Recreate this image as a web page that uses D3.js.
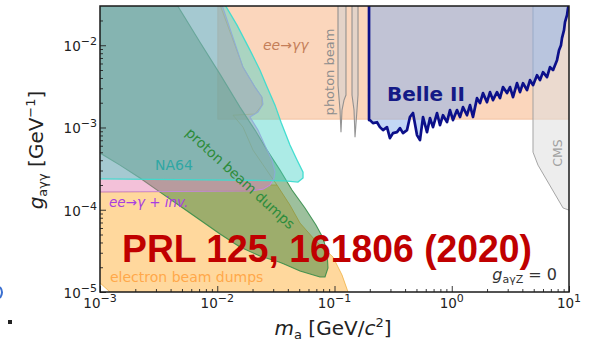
<!DOCTYPE html>
<html>
<head>
<meta charset="utf-8">
<script src="https://cdn.jsdelivr.net/npm/d3@7"></script>
<style>
  body { margin: 0; background: #fff; }
  svg { display: block; }
</style>
</head>
<body>
<svg id="chart" width="590" height="346"></svg>
<script>
// ---- axis ticks ----
const massTicks = [1e-3, 1e-2, 1e-1, 1, 10];
const massTickExponents = ["−3", "−2", "−1", "0", "1"];
const couplingTicks = [1e-5, 1e-4, 1e-3, 1e-2];
const couplingTickExponents = ["−5", "−4", "−3", "−2"];

// ---- excluded regions: [m_a (GeV), g_aγγ (GeV^-1)] ----
const electronBeamDumps = [[0.0009,0.000164],[0.01902,0.000169],[0.02455,0.000178],[0.0282,0.0002],[0.0323,0.0002],
  [0.0417,0.000114],[0.0508,6.89e-5],[0.0682,4.28e-5],[0.0971,2.66e-5],[0.1159,1.61e-5],[0.1304,1e-5],
  [0.135,9e-6],[0.00132,9e-6],[0.0009,1.48e-5]];
// upper continuation of the electron beam-dump contour
const electronBeamDumpsEdge = [[0.01056,0.031],[0.01658,0.00542],[0.02099,0.0031],[0.02408,0.00234],[0.02408,0.00187],
  [0.02099,0.00146],[0.01363,0.00141],[0.01658,0.00101],[0.02018,0.000531],[0.0282,0.000264],[0.0323,0.0002]];

const eeGammaGamma = [[0.0101,0.04],[12,0.04],[12,0.00126],[0.0101,0.00126]];

const eeGammaInvisible = [[0.0009,0.04],[0.01098,0.031],[0.01658,0.00542],[0.02099,0.0031],[0.02408,0.00234],
  [0.02455,0.00192],[0.02226,0.00154],[0.01902,0.00134],[0.02226,0.00093],[0.0266,0.000531],[0.0293,0.000402],
  [0.0311,0.000287],[0.0305,0.000243],[0.0282,0.0002],[0.02455,0.000178],[0.01902,0.000169],[0.0009,0.000164]];

const na64 = [[0.0009,0.04],[0.01165,0.031],[0.01474,0.01754],[0.01902,0.00872],[0.02315,0.00498],[0.0266,0.0031],
  [0.0311,0.00187],[0.0350,0.00116],[0.0417,0.000611],[0.0479,0.000402],[0.0539,0.000287],[0.0539,0.000243],
  [0.0488,0.000217],[0.0378,0.000225],[0.0009,0.000238]];

const protonBeamDumps = [[0.0009,0.04],[0.00454,0.031],[0.00713,0.0109],[0.01056,0.00446],[0.01563,0.00177],
  [0.0210,0.00093],[0.0266,0.000531],[0.0343,0.000304],[0.0434,0.000174],[0.0560,0.000105],[0.0695,6.52e-5],
  [0.0798,4.53e-5],[0.0863,3.06e-5],[0.0880,1.96e-5],[0.0830,1.52e-5],[0.0752,1.52e-5],[0.0508,1.80e-5],
  [0.0371,2.19e-5],[0.0336,2.31e-5],[0.0231,2.74e-5],[0.01563,3.52e-5],[0.01056,5.07e-5],[0.00713,7.50e-5],
  [0.00481,0.000111],[0.00325,0.000164],[0.00219,0.000243],[0.00148,0.000349],[0.001,0.000489],[0.0009,0.00056]];

const photonBeamLow = [[0.1071,0.04],[0.1071,0.00327],[0.1114,0.00163],[0.1136,0.000879],[0.1159,0.00163],
  [0.1205,0.00215],[0.1253,0.00248],[0.1253,0.04]];
const photonBeamHigh = [[0.1410,0.04],[0.1410,0.00248],[0.1467,0.00163],[0.1496,0.000764],[0.1555,0.00163],
  [0.1587,0.00248],[0.1587,0.04]];

const cms = [[4.93,0.04],[4.93,0.000502],[5.44,0.000349],[8.9,0.000105],[10,9.9e-5],[12,9.9e-5],[12,0.04]];

// ---- Belle II 95% CL upper limit ----
const belleMass = [0.197,0.197,0.2008,0.2130,0.2304,0.244,0.2593,0.2804,0.297,0.3155,0.3412,0.362,0.3838,0.4151,
  0.440,0.4672,0.5053,0.5359,0.569,0.6151,0.6524,0.6921,0.7485,0.7940,0.8421,0.9110,0.9662,1.0248,1.1086,1.1758,
  1.247,1.349,1.431,1.5176,1.6420,1.7414,1.847,1.998,2.120,2.247,2.4315,2.5788,2.735,2.959,3.1397,3.3300,3.6014,
  3.820,4.053,4.3833,4.650,4.9318,5.3345,5.657,6.002,6.494,6.887,7.303,7.900,8.217,8.546,8.716,9.066,9.245,
  9.615,9.806,10];
const belleCoupling = [0.04,0.00123,0.00123,0.00113,0.00116,0.00101,0.00093,0.00101,0.000743,0.000855,0.000879,
  0.000983,0.000855,0.00093,0.00134,0.0015,0.000808,0.000703,0.00134,0.000879,0.0013,0.00101,0.0015,0.00107,
  0.00141,0.00116,0.00163,0.00123,0.00163,0.00134,0.00177,0.00141,0.00187,0.00134,0.002276,0.00198,0.00262,
  0.00203,0.002692,0.00215,0.002692,0.002276,0.0031,0.00262,0.0031,0.00234,0.00346,0.002692,0.00346,0.00285,
  0.00377,0.00327,0.004331,0.00377,0.00471,0.004095,0.005418,0.004982,0.006592,0.008718,0.01003,0.0122,
  0.01526,0.01909,0.02321,0.02824,0.0307];

// ---- drawing ----
const svg = d3.select("#chart");
const plot = { left: 100, right: 569, top: 6, bottom: 292 };
const x = d3.scaleLog().domain([1e-3, 10]).range([plot.left, plot.right]);
const y = d3.scaleLog().domain([1e-5, 0.03]).range([plot.bottom, plot.top]);
const line = d3.line().x(d => x(d[0])).y(d => y(d[1]));
const FONT = "DejaVu Sans, sans-serif";

svg.append("rect").attr("width", 590).attr("height", 346).attr("fill", "#fff");

svg.append("clipPath").attr("id", "plotClip")
  .append("rect").attr("x", plot.left).attr("y", plot.top)
  .attr("width", plot.right - plot.left).attr("height", plot.bottom - plot.top);

const regions = svg.append("g").attr("clip-path", "url(#plotClip)");

function region(pts, fill, op, stroke, sw, sop) {
  regions.append("path").datum(pts)
    .attr("d", d => line(d) + "Z")
    .attr("fill", fill).attr("fill-opacity", op)
    .attr("stroke", stroke).attr("stroke-width", sw).attr("stroke-opacity", sop);
}

region(eeGammaGamma, "#f7a56b", 0.45, "#eba070", 0.8, 0.6);
region(electronBeamDumps, "#ffb13c", 0.5, "#f0b040", 1, 0.8);
regions.append("path").datum(electronBeamDumpsEdge).attr("d", line)
  .attr("fill", "none").attr("stroke", "#e0b040").attr("stroke-width", 1).attr("stroke-opacity", 0.75);
region(protonBeamDumps, "#3c823c", 0.5, "#2f8a45", 1.1, 0.85);
region(eeGammaInvisible, "#e164a0", 0.4, "#c68ae8", 1.1, 0.9);
region(na64, "#46d2c8", 0.45, "#3cdccf", 1.3, 0.95);
region(photonBeamLow, "#d2d2d2", 0.55, "#8a8a8a", 1.1, 0.9);
region(photonBeamHigh, "#d2d2d2", 0.55, "#8a8a8a", 1.1, 0.9);
region(cms, "#dedede", 0.55, "#9c9c9c", 1, 0.9);

// Belle II exclusion (filled above the limit curve)
const belle = belleMass.map((m, i) => [m, belleCoupling[i]]);
regions.append("path").datum(belle)
  .attr("d", d => line(d.concat([[10, 0.04]])) + "Z")
  .attr("fill", "#8cb2ec").attr("fill-opacity", 0.52).attr("stroke", "none");
regions.append("path").datum(belle)
  .attr("d", line)
  .attr("fill", "none").attr("stroke", "#0c108a").attr("stroke-width", 2.7)
  .attr("stroke-linejoin", "round");

// ---- axes (ticks pointing inward) ----
function minorTicks(lo, hi) {
  const out = [];
  for (let e = Math.log10(lo); e < Math.log10(hi); e++)
    for (let k = 2; k <= 9; k++) out.push(k * Math.pow(10, e));
  return out;
}
const xMinor = minorTicks(1e-3, 10);
const yMinor = minorTicks(1e-5, 1e-1).filter(v => v < 0.03);

const axisX = svg.append("g").attr("transform", `translate(0,${plot.bottom})`);
axisX.call(d3.axisBottom(x).tickValues(massTicks).tickSizeInner(-6).tickSizeOuter(0).tickFormat(""));
axisX.append("g").call(d3.axisBottom(x).tickValues(xMinor).tickSizeInner(-3).tickSizeOuter(0).tickFormat(""));
const axisY = svg.append("g").attr("transform", `translate(${plot.left},0)`);
axisY.call(d3.axisLeft(y).tickValues(couplingTicks).tickSizeInner(-6).tickSizeOuter(0).tickFormat(""));
axisY.append("g").call(d3.axisLeft(y).tickValues(yMinor).tickSizeInner(-3).tickSizeOuter(0).tickFormat(""));
svg.selectAll(".domain").remove();
svg.selectAll(".tick line").attr("stroke", "#222").attr("stroke-width", 0.9);

svg.append("rect").attr("x", plot.left).attr("y", plot.top)
  .attr("width", plot.right - plot.left).attr("height", plot.bottom - plot.top)
  .attr("fill", "none").attr("stroke", "#1a1a1a").attr("stroke-width", 1.5);

// tick labels 10^n
massTicks.forEach((v, i) => {
  const t = svg.append("text").attr("x", x(v)).attr("y", 308)
    .attr("text-anchor", "middle").attr("font-family", FONT).attr("font-size", 13.5).attr("fill", "#222");
  t.append("tspan").text("10");
  t.append("tspan").attr("dy", -6).attr("font-size", 11).text(massTickExponents[i]);
});
couplingTicks.forEach((v, i) => {
  const t = svg.append("text").attr("x", 97).attr("y", y(v) + 6)
    .attr("text-anchor", "end").attr("font-family", FONT).attr("font-size", 13.5).attr("fill", "#222");
  t.append("tspan").text("10");
  t.append("tspan").attr("dy", -6).attr("font-size", 11).text(couplingTickExponents[i]);
});

// axis titles
const yTitle = svg.append("text").attr("transform", "translate(43,150) rotate(-90)")
  .attr("text-anchor", "middle").attr("font-family", FONT).attr("font-size", 20).attr("fill", "#222");
yTitle.append("tspan").attr("font-style", "italic").text("g");
yTitle.append("tspan").attr("font-size", 13).attr("dy", 4).text("aγγ");
yTitle.append("tspan").attr("dy", -4).text(" [GeV");
yTitle.append("tspan").attr("font-size", 13).attr("dy", -8).text("−1");
yTitle.append("tspan").attr("dy", 8).text("]");

const xTitle = svg.append("text").attr("x", 333).attr("y", 335)
  .attr("text-anchor", "middle").attr("font-family", FONT).attr("font-size", 20).attr("fill", "#222");
xTitle.append("tspan").attr("font-style", "italic").text("m");
xTitle.append("tspan").attr("font-size", 13).attr("dy", 4).text("a");
xTitle.append("tspan").attr("dy", -4).text(" [GeV/");
xTitle.append("tspan").attr("font-style", "italic").text("c");
xTitle.append("tspan").attr("font-size", 13).attr("dy", -8).text("2");
xTitle.append("tspan").attr("dy", 8).text("]");

// region labels
function label(txt, xx, yy, opts) {
  const o = Object.assign({ size: 14, color: "#333", anchor: "start", italic: false, weight: "normal", rotate: 0, family: FONT }, opts);
  const t = svg.append("text")
    .attr("transform", `translate(${xx},${yy}) rotate(${o.rotate})`)
    .attr("text-anchor", o.anchor).attr("font-family", o.family).attr("font-size", o.size)
    .attr("font-style", o.italic ? "italic" : "normal").attr("font-weight", o.weight)
    .attr("fill", o.color).text(txt);
  if (o.length) t.attr("textLength", o.length).attr("lengthAdjust", "spacingAndGlyphs");
  return t;
}
label("ee→γγ", 263, 50, { color: "#c47e58", italic: true });
label("photon beam", 334, 72, { color: "#8e8e8e", anchor: "middle", rotate: -90, size: 13 });
label("CMS", 562, 153, { color: "#a0a0a0", anchor: "middle", rotate: -90, size: 12.5 });
label("Belle II", 387, 101, { color: "#141a86", weight: "bold", size: 19, length: 78 });
label("NA64", 155, 170, { color: "#2fa7a4" });
label("proton beam dumps", 237, 182, { color: "#2d8c3c", anchor: "middle", rotate: 42.5 });
label("ee→γ + inv.", 109, 207, { color: "#a83ee0", italic: true, size: 13.5 });
label("electron beam dumps", 110, 282, { color: "#ffa84a" });
label("PRL 125, 161806 (2020)", 122, 262, { color: "#c00000", weight: "bold", size: 38, length: 410,
  family: "Liberation Sans, Arial, sans-serif" });

const gz = svg.append("text").attr("x", 557).attr("y", 280).attr("text-anchor", "end")
  .attr("font-family", FONT).attr("font-size", 16).attr("fill", "#333");
gz.append("tspan").attr("font-style", "italic").text("g");
gz.append("tspan").attr("font-size", 11).attr("dy", 3).text("aγZ");
gz.append("tspan").attr("dy", -3).text(" = 0");

// page edge fragments
svg.append("path").attr("d", "M0,287 Q4,292 0,298").attr("fill", "none").attr("stroke", "#3a6fd0").attr("stroke-width", 2);
svg.append("rect").attr("x", 8).attr("y", 320).attr("width", 4).attr("height", 4).attr("fill", "#222");
</script>
</body>
</html>
